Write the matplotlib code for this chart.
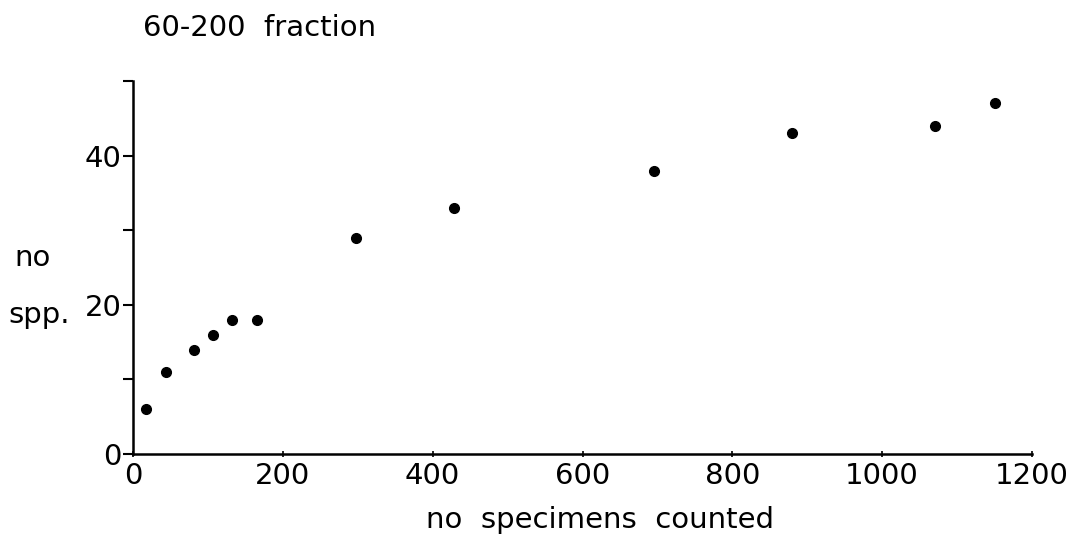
#!/usr/bin/env python3
# -*- coding: utf-8 -*-
"""Species accumulation scatter: 60-200 fraction."""

import matplotlib
matplotlib.use("Agg")
import matplotlib.pyplot as plt
from matplotlib.ticker import MultipleLocator

# ----------------------------
# Data
# ----------------------------
specimens = [17, 44, 81, 107, 132, 165, 297, 429, 696, 879, 1071, 1151]
species = [6, 11, 14, 16, 18, 18, 29, 33, 38, 43, 44, 47]

x_ticks = [0, 200, 400, 600, 800, 1000, 1200]
y_ticks = [0, 20, 40]

TITLE = "60-200  fraction"
XLABEL = "no  specimens  counted"
YLABEL_1 = "no"
YLABEL_2 = "spp."

FS = 21

plt.rcParams["font.family"] = ["DejaVu Sans"]

fig = plt.figure(figsize=(10.87, 5.38), dpi=100)
ax = fig.add_axes([133 / 1087, 84 / 538, 899 / 1087, 373 / 538])

ax.plot(specimens, species, "o", color="black", markersize=7, clip_on=False)

ax.set_xlim(0, 1200)
ax.set_ylim(0, 50)

for side in ("top", "right"):
    ax.spines[side].set_visible(False)
for side in ("left", "bottom"):
    ax.spines[side].set_linewidth(1.8)

ax.set_xticks(x_ticks)
ax.set_xticklabels([str(v) for v in x_ticks])
ax.set_yticks(y_ticks)
ax.set_yticklabels([str(v) for v in y_ticks])
ax.yaxis.set_minor_locator(MultipleLocator(10))

ax.tick_params(axis="y", which="both", direction="out", length=7, width=1.5,
               pad=1, labelsize=FS)
ax.tick_params(axis="x", which="major", direction="inout", length=5, width=1.2,
               pad=3, labelsize=FS)

fig.text(143 / 1087, 1 - 28 / 538, TITLE, fontsize=FS, va="center", ha="left")
fig.text(600 / 1087, 1 - 520 / 538, XLABEL, fontsize=FS, va="center", ha="center")
fig.text(14 / 1087, 1 - 258 / 538, YLABEL_1, fontsize=FS, va="center", ha="left")
fig.text(8 / 1087, 1 - 315 / 538, YLABEL_2, fontsize=FS, va="center", ha="left")

fig.savefig("out.png", dpi=100, facecolor="white")
plt.close(fig)
